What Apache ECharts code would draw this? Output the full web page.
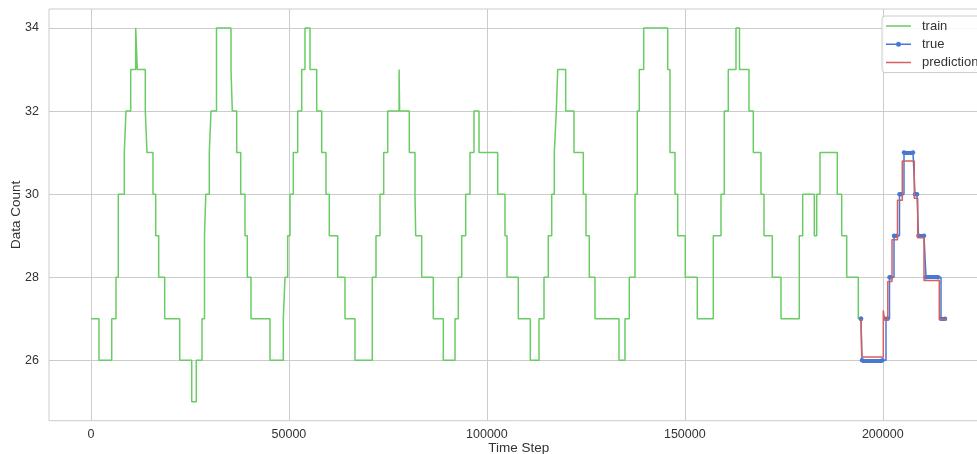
<!DOCTYPE html>
<html><head><meta charset="utf-8">
<script src="https://cdn.jsdelivr.net/npm/echarts@6/dist/echarts.min.js"></script>
<style>html,body{margin:0;padding:0;background:#fff}#c{width:977px;height:454px}</style>
</head><body><div id="c"></div>
<script>
// ---- data ----
const trainX = [0,2021,5229,6315,6896,8412,8841,10028,11291,11695,13716,14146,15661,16343,17101,18617,22406,25437,26599,28039,28670,28998,29883,30312,31701,35364,35692,36804,37814,38900,39481,40416,45215,48575,49004,49686,50267,51101,52212,53223,54056,55319,57012,58275,59361,60195,62316,64160,66686,71056,71991,73001,73936,74946,77826,77952,80403,81842,82019,83535,86465,88991,91946,92780,93639,94649,95735,96746,98009,102732,104576,105082,107936,110967,113165,114428,115514,116373,117030,117535,117888,119909,122006,124355,125037,125871,127310,133373,134888,135975,137414,137995,138501,139612,145674,146255,147518,148200,150120,153151,157193,159138,159972,160982,162927,163811,166211,167297,169242,169999,172096,174294,178917,179775,182706,183312,184145,188515,189627,190890,193820,194502];
const trainY = [27,26,27,28,30,31,32,33,34,33,32,31,30,29,28,27,26,25,26,27,29,30,31,32,34,33,32,31,30,29,28,27,26,27,28,29,30,31,32,33,34,33,32,31,30,29,28,27,26,28,29,30,31,32,33,32,31,30,29,28,27,26,27,28,29,30,31,32,31,30,29,28,27,26,27,28,29,30,31,32,33,32,31,30,29,28,27,26,27,28,30,32,33,34,33,31,30,29,28,27,29,30,32,33,34,33,32,31,30,29,28,27,29,30,29,30,31,30,29,28,27,27];

const trueStart = [194502,194755,200818,201702,202838,204227,205364,208142,209026,210921,214710];
const trueEnd   = [194502,199934,201197,202005,203469,204732,207637,208648,210416,213952,215720];
const trueValue = [27,26,27,28,29,30,31,30,29,28,27];

const predX = [194502,194679,200135,200463,201273,202332,203722,204934,207966,208825,210416,214280,216148];
const predY = [27,26.08,27.2,26.97,27.9,28.9,29.85,30.8,29.9,28.95,27.92,26.98,26.98];

const xTicks = [0,50000,100000,150000,200000];
const yTicks = [26,28,30,32,34];

// ---- build ----
const trainData = trainX.map((x,i)=>[x, trainY[i]]);
const trueLine = [];
trueStart.forEach((s,i)=>{ trueLine.push([s,trueValue[i]]); trueLine.push([trueEnd[i],trueValue[i]]); });
const trueBars = trueStart.map((s,i)=>({coords:[[s,trueValue[i]],[trueEnd[i],trueValue[i]]]}));
const predData = predX.map((x,i)=>[x, predY[i]]);

const LINE_ICON = 'path://M0,0h0.01v0.01h-0.01z M24.99,9.99h0.01v0.01h-0.01z M0,4.25h25v1.5h-25z';
const DOT_ICON = 'path://M0,0h0.01v0.01h-0.01z M24.99,9.99h0.01v0.01h-0.01z M0,4.25h10v1.5h-10z M15,4.25h10v1.5h-10z M10,5a2.5,2.5 0 1,1 5,0a2.5,2.5 0 1,1 -5,0z';

const FONT = 'Liberation Sans, Arial, sans-serif';
const chart = echarts.init(document.getElementById('c'), null, {renderer:'canvas'});
chart.setOption({
  animation:false,
  backgroundColor:'#ffffff',
  textStyle:{fontFamily:FONT},
  grid:{left:49, top:9, width:939.6, height:411.7, show:true, borderColor:'#cccccc', borderWidth:1,
        containLabel:false, outerBoundsMode:'none'},
  legend:{
    data:[{name:'train', icon:LINE_ICON},{name:'true', icon:DOT_ICON},{name:'prediction', icon:LINE_ICON}],
    orient:'vertical', left:882, top:16,
    backgroundColor:'rgba(255,255,255,0.85)', borderColor:'#cccccc', borderWidth:1, borderRadius:3,
    padding:[3,6,3,4], itemWidth:25, itemHeight:10, itemGap:4.3,
    textStyle:{fontSize:13, color:'#333', lineHeight:14, padding:[0,0,0,6], fontFamily:FONT}
  },
  xAxis:{
    type:'value', min:-10609, max:226734,
    name:'Time Step', nameLocation:'middle', nameGap:21, nameMoveOverlap:false,
    nameTextStyle:{fontSize:13.5, color:'#333', fontFamily:FONT},
    axisLine:{show:false}, axisTick:{show:false, customValues:xTicks},
    axisLabel:{customValues:xTicks, fontSize:12.5, color:'#333', margin:7, fontFamily:FONT,
               formatter:(v)=>String(v)},
    splitLine:{show:true, lineStyle:{color:'#cccccc', width:1}}
  },
  yAxis:{
    type:'value', min:24.546, max:34.457,
    name:'Data Count', nameLocation:'middle', nameGap:26, nameMoveOverlap:false,
    nameTextStyle:{fontSize:13.5, color:'#333', fontFamily:FONT},
    axisLine:{show:false}, axisTick:{show:false, customValues:yTicks},
    axisLabel:{customValues:yTicks, fontSize:12.5, color:'#333', margin:10, fontFamily:FONT,
               formatter:(v)=>String(v)},
    splitLine:{show:true, lineStyle:{color:'#cccccc', width:1}}
  },
  series:[
    {name:'train', type:'line', step:'end', data:trainData, symbol:'none', showSymbol:false,
     lineStyle:{color:'#6acc64', width:1.5}, itemStyle:{color:'#6acc64'}, z:2},
    {name:'true bars', type:'lines', coordinateSystem:'cartesian2d', data:trueBars, silent:true,
     lineStyle:{color:'#4878d0', width:4, opacity:1, cap:'butt'}, z:3},
    {name:'true', type:'line', step:'end', data:trueLine, symbol:'circle', symbolSize:4.5, showSymbol:true,
     lineStyle:{color:'#4878d0', width:1.5}, itemStyle:{color:'#4878d0'}, z:3},
    {name:'prediction', type:'line', step:'end', data:predData, symbol:'none', showSymbol:false,
     lineStyle:{color:'#d65f5f', width:1.5}, itemStyle:{color:'#d65f5f'}, z:4}
  ]
});
</script></body></html>
